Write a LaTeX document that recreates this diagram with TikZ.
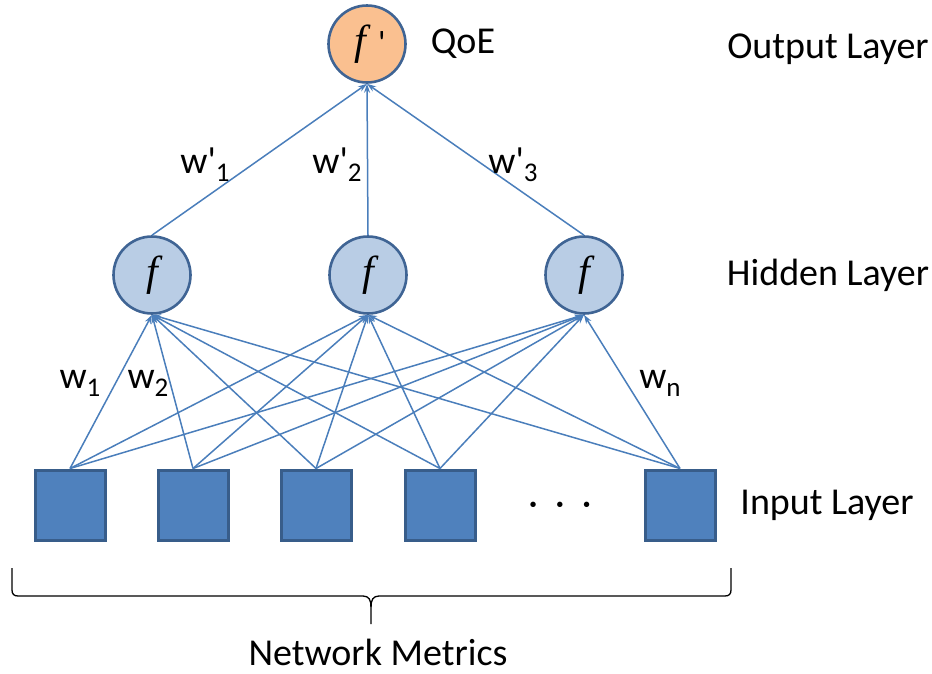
\documentclass[tikz,border=0pt]{standalone}
\usepackage{fontspec}
\setmainfont{Carlito}
\newfontfamily\funcfont{Liberation Serif}
\usepackage{tikz}
\usetikzlibrary{arrows.meta,positioning,calc}
\definecolor{linkblue}{HTML}{4A7EBB}
\definecolor{rimblue}{HTML}{3F6494}
\definecolor{hiddenfill}{HTML}{B9CDE5}
\definecolor{outfill}{HTML}{FAC090}
\definecolor{inputfill}{HTML}{4F81BD}
\definecolor{inputrim}{HTML}{385D8A}
\newcommand{\lblfont}{\fontsize{38}{44}\selectfont}
\newcommand{\fn}{{\funcfont\itshape f}}
\newcommand{\wsub}[1]{\raisebox{-0.45ex}{\fontsize{27}{30}\selectfont #1}}
\tikzset{
  hvertex/.style={circle,draw=rimblue,fill=hiddenfill,line width=2.6pt,minimum size=77pt,inner sep=0pt,font=\fontsize{42}{46}\selectfont},
  overtex/.style={hvertex,fill=outfill},
  ivertex/.style={rectangle,draw=inputrim,fill=inputfill,line width=3pt,minimum size=70pt,inner sep=0pt},
  qarrow/.style={-{Stealth[length=9pt,width=6pt]},draw=linkblue,line width=1.5pt},
  wlabel/.style={font=\lblfont,inner sep=0pt}
}

\begin{document}
\begin{tikzpicture}[
  x=1pt,
  y=-1pt
]
\useasboundingbox (0,0) rectangle (932,673);

  % --------------------------------------------------------------
  % The three layers.
  % --------------------------------------------------------------
  \node[overtex] (out) at (367,44) {\hspace{6pt}\fn\hspace{12pt}{\fontsize{34}{40}\selectfont\textquotesingle}};

  \node[hvertex] (h1) at (152,275) {\fn};
  \node[hvertex] (h2) at (368,275) {\fn};
  \node[hvertex] (h3) at (584,275) {\fn};

  \node[ivertex] (i1) at (70,505) {};
  \node[ivertex] (i2) at (193,505) {};
  \node[ivertex] (i3) at (316,505) {};
  \node[ivertex] (i4) at (440,505) {};
  \node[ivertex] (i5) at (680,505) {};

  \node[wlabel] (dots) at (560,509) {\textperiodcentered\ \ \textperiodcentered\ \ \textperiodcentered};


  % --------------------------------------------------------------
  % Links: input --> hidden --> output.
  % --------------------------------------------------------------
\foreach \i in {1,...,5}
  {\foreach \j in {1,2,3}
    {\draw[qarrow] (i\i.north) -- (h\j.south);}}

\foreach \j in {1,2,3}
  {\draw[qarrow] (h\j.north) -- (out.south);}


  % --------------------------------------------------------------
  % Weights and names.
  % --------------------------------------------------------------
  \node[wlabel] (qoe) at (463,44) {QoE};

  \node[wlabel] (wo1) at (205,165) {w\textquotesingle\wsub{1}};
  \node[wlabel] (wo2) at (337,165) {w\textquotesingle\wsub{2}};
  \node[wlabel] (wo3) at (513,165) {w\textquotesingle\wsub{3}};

  \node[wlabel] (wi1) at (80,383) {w\wsub{1}};
  \node[wlabel] (wi2) at (148,383) {w\wsub{2}};
  \node[wlabel] (win) at (660,383) {w\wsub{n}};

  \node[wlabel] (lout) at (828,49) {Output Layer};
  \node[wlabel] (lhid) at (828,275) {Hidden Layer};
  \node[wlabel] (linp) at (827,505) {Input Layer};


  % --------------------------------------------------------------
  % The brace under the inputs.
  % --------------------------------------------------------------
  \coordinate (bl) at (12,568);
  \coordinate (br) at (731,568);
  \coordinate (btip) at (371,624);

  \draw[line width=1.3pt] (bl) -- (12,590) .. controls (12,594) and (14,596) .. (18,596)
    -- (363,596) .. controls (369,596) and (371,600) .. (371,607) -- (btip);
  \draw[line width=1.3pt] (br) -- (731,590) .. controls (731,594) and (729,596) .. (725,596)
    -- (379,596) .. controls (373,596) and (371,600) .. (371,607);

  \node[wlabel] (metrics) at (378,652) {Network Metrics};

\end{tikzpicture}
\end{document}
